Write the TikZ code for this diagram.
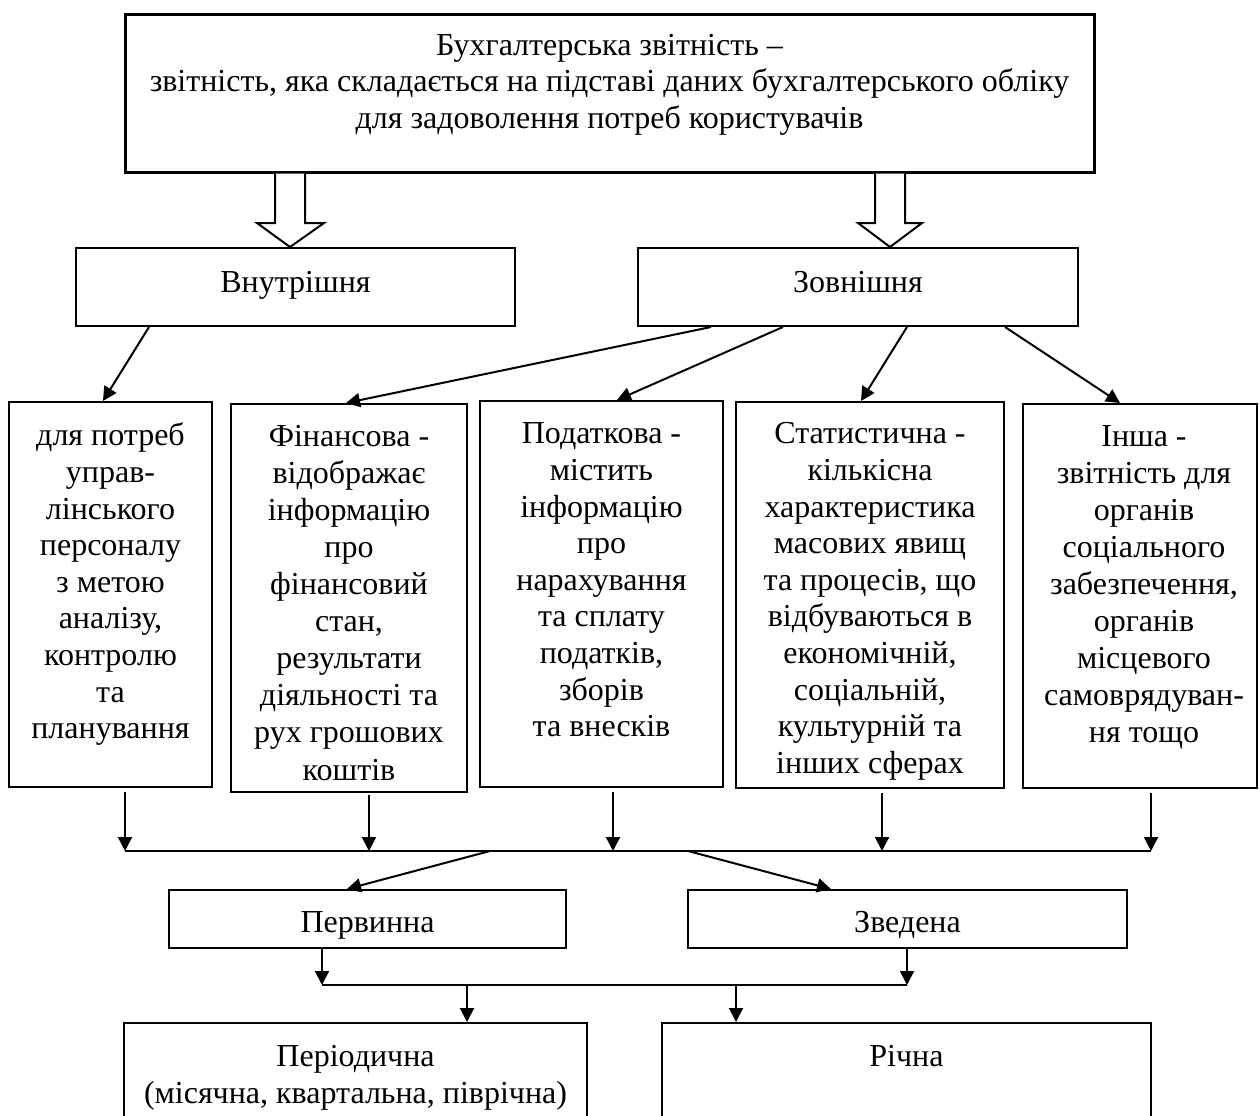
\documentclass[tikz,border=0pt]{standalone}
\usepackage{fontspec}
\setmainfont{Liberation Serif}
\usetikzlibrary{arrows.meta,calc}
\tikzset{
  box/.style={draw, line width=2pt, inner sep=0pt},
  txt/.style={align=center, inner sep=0pt, font=\fontsize{32}{36.6}\selectfont},
  wtxt/.style={align=center, inner sep=0pt, font=\fontsize{32}{37.1}\selectfont},
  toptxt/.style={align=center, inner sep=0pt, font=\fontsize{32}{36.5}\selectfont},
  arr/.style={line width=2pt, -{Triangle[length=14pt,width=14pt]}},
  ln/.style={line width=2pt},
  hollow/.style={draw, line width=2pt, fill=white, line join=miter}
}
\begin{document}
\begin{tikzpicture}[x=1pt,y=-1pt]
\useasboundingbox (0,0) rectangle (1259,1116);
\clip (0,0) rectangle (1259,1116);
\fill[white] (0,0) rectangle (1259,1116);

% top box
\node[box, line width=3pt, minimum width=969pt, minimum height=157pt] (top) at (609.5,93.5) {};
\node[toptxt, anchor=north] (toptext) at (609.5,29.5) {\strut Бухгалтерська звітність –\\звітність, яка складається на підставі даних бухгалтерського обліку\\для задоволення потреб користувачів};

% level 2
\node[box, minimum width=439pt, minimum height=78pt] (vnut) at (295.5,287) {};
\node[box, minimum width=440pt, minimum height=78pt] (zov) at (858,287) {};
\node[txt, anchor=base] (vnuttxt) at (295.5,292) {Внутрішня};
\node[txt, anchor=base] (zovtxt) at (858,292) {Зовнішня};

% hollow arrows
\draw[hollow] (top.south -| 275,0) -- (275,223) -- (257,223) -- (vnut.north -| 290,0) -- (324,223) -- (305,223) -- (top.south -| 305,0);
\draw[hollow] (top.south -| 875,0) -- (875,223) -- (858,223) -- (zov.north -| 890,0) -- (922,223) -- (905,223) -- (top.south -| 905,0);

% level 3 boxes
\node[box, minimum width=203pt, minimum height=385pt] (b1) at (110.5,594.5) {};
\node[box, minimum width=236pt, minimum height=388pt] (b2) at (349,598) {};
\node[box, minimum width=243pt, minimum height=386pt] (b3) at (601.5,594) {};
\node[box, minimum width=268pt, minimum height=386pt] (b4) at (870,595) {};
\node[box, minimum width=234pt, minimum height=384pt] (b5) at (1140,596) {};

\node[txt, anchor=north] (t1) at (110.5,420) {\strut для потреб\\управ-\\лінського\\персоналу\\з метою\\аналізу,\\контролю\\та\\планування};
\node[wtxt, anchor=north] (t2) at (349,420) {\strut Фінансова -\\відображає\\інформацію\\про\\фінансовий\\стан,\\результати\\діяльності та\\рух грошових\\коштів};
\node[txt, anchor=north] (t3) at (601.5,418) {\strut Податкова -\\містить\\інформацію\\про\\нарахування\\та сплату\\податків,\\зборів\\та внесків};
\node[txt, anchor=north] (t4) at (870,418) {\strut Статистична -\\кількісна\\характеристика\\масових явищ\\та процесів, що\\відбуваються в\\економічній,\\соціальній,\\культурній та\\інших сферах};
\node[wtxt, anchor=north] (t5) at (1144,420) {\strut Інша -\\звітність для\\органів\\соціального\\забезпечення,\\органів\\місцевого\\самоврядуван-\\ня тощо};

% arrows level 2 -> 3
\draw[arr] ([xshift=-146.5pt]vnut.south) -- ([xshift=-7.5pt]b1.north);
\draw[arr] ([xshift=-147pt]zov.south) -- ([xshift=-3pt]b2.north);
\draw[arr] ([xshift=-75pt]zov.south) -- ([xshift=15.5pt]b3.north);
\draw[arr] ([xshift=49pt]zov.south) -- ([xshift=-9pt]b4.north);
\draw[arr] ([xshift=147pt]zov.south) -- ([xshift=-20pt]b5.north);

% collector line
\coordinate (h1) at (125,851);
\coordinate (h2) at (369,851);
\coordinate (h3) at (613,851);
\coordinate (h4) at (882,851);
\coordinate (h5) at (1151,851);
\draw[arr] (h1 |- 0,792) -- (h1);
\draw[arr] (h2 |- 0,795) -- (h2);
\draw[arr] (h3 |- 0,792) -- (h3);
\draw[arr] (h4 |- 0,793) -- (h4);
\draw[arr] (h5 |- 0,793) -- (h5);
\draw[ln] (h1) -- (h5);
\coordinate (s1) at (490,851);
\coordinate (s2) at (688,851);

% level 4
\node[box, minimum width=397pt, minimum height=58pt] (perv) at (367.5,919) {};
\node[box, minimum width=439pt, minimum height=58pt] (zved) at (907.5,919) {};
\node[txt, anchor=base] (pervtxt) at (367.5,932) {Первинна};
\node[txt, anchor=base] (zvedtxt) at (907.5,932) {Зведена};
\draw[arr] (s1) -- ([xshift=-20.5pt]perv.north);
\draw[arr] (s2) -- ([xshift=-76.5pt]zved.north);

% second collector
\coordinate (g1) at (322,985);
\coordinate (g2) at (907,985);
\draw[arr] ([xshift=-45.5pt]perv.south) -- (g1);
\draw[arr] (zved.south -| g2) -- (g2);
\draw[ln] (g1) -- (g2);
\coordinate (d1) at (467,985);
\coordinate (d2) at (736,985);

% bottom boxes
\node[box, minimum width=463pt, minimum height=160pt] (per) at (355.5,1103) {};
\node[box, minimum width=489pt, minimum height=160pt] (rich) at (906.5,1103) {};
\node[txt, anchor=base] (pertxt) at (355.5,1066) {Періодична};
\node[txt, anchor=base] (pertxt2) at (355.5,1103) {(місячна, квартальна, піврічна)};
\node[txt, anchor=base] (richtxt) at (906.5,1066) {Річна};
\draw[arr] (d1) -- (d1 |- per.north);
\draw[arr] (d2) -- (d2 |- rich.north);
\end{tikzpicture}
\end{document}
